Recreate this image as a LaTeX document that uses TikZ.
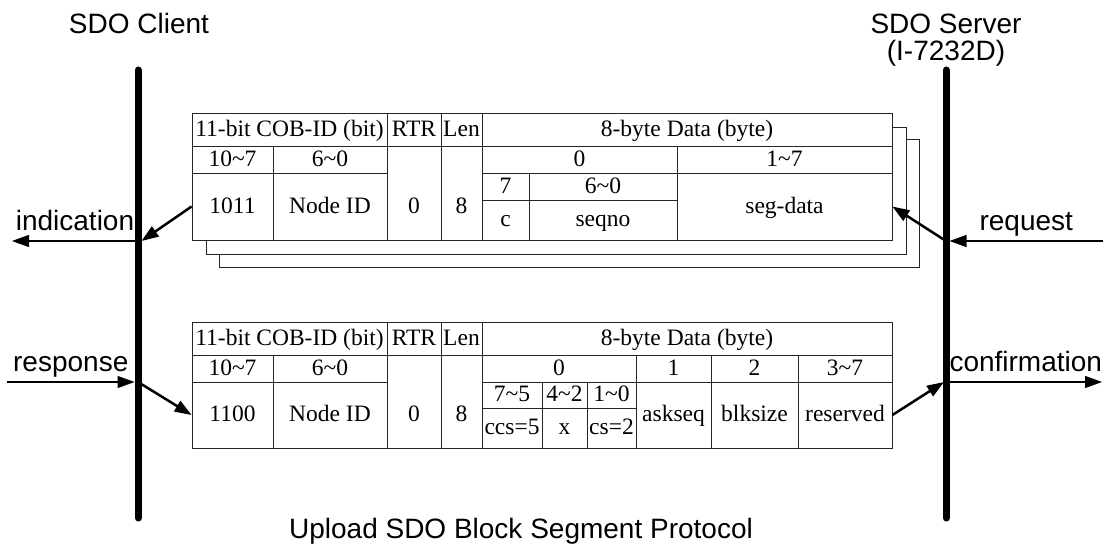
\documentclass[tikz,border=0pt]{standalone}
\usepackage{fontspec}
\setmainfont{Liberation Serif}
\newfontfamily\labelfont{Liberation Sans}
\usepackage{tikz}
\usetikzlibrary{arrows.meta,positioning,calc}
\newcommand{\fld}[6]{\node[cell,minimum width=#4-#2,minimum height=#5-#3] (#1) at ({(#2+#4)/2},{(#3+#5)/2}) {#6};}
\newcommand{\tl}{\textasciitilde}

\begin{document}
\begin{tikzpicture}[x=1pt,y=-1pt,
  >={Triangle[length=17pt,width=12pt]},
  cell/.style={draw=black!85,line width=0.8pt,fill=white,inner sep=0pt,
               font=\fontsize{23.5}{26}\selectfont,text height=16pt,text depth=3pt},
  val/.style={inner sep=0pt,font=\fontsize{23.5}{26}\selectfont,text height=16pt,text depth=3pt},
  lbl/.style={font=\labelfont\fontsize{28}{32}\selectfont,inner sep=0pt},
  side/.style={line width=7pt,line cap=round},
  msg/.style={->,line width=1.2pt},
  hop/.style={->,line width=2.5pt}
]
\useasboundingbox (0,0) rectangle (1110,546);
% the two sides
\node[lbl,anchor=base] (client) at (139,33) {SDO Client};
\node[lbl,anchor=base] (server) at (946,33) {SDO Server};
\node[lbl,anchor=base] (model) at (946,60) {(I-7232D)};
\coordinate (cltop) at (138,70);
\coordinate (clbot) at (138,518);
\coordinate (srtop) at (946,70);
\coordinate (srbot) at (946,518);
\draw[side] (cltop) -- (clbot);
\draw[side] (srtop) -- (srbot);
\coordinate (cl1) at (cltop |- 0,241);
\coordinate (cl2) at (cltop |- 0,382);
\coordinate (sr1) at (srtop |- 0,241);
\coordinate (sr2) at (srtop |- 0,382);
\coordinate (indend) at (12,241);
\coordinate (rspstart) at (7,382);
\coordinate (reqstart) at (1103,241);
\coordinate (cnfend) at (1102,382);

% segment frame (with two more behind it)
\fld{sh3}{219}{139}{919}{267}{}
\fld{sh2}{206}{127}{906}{254}{}
\fld{t1cob}{192}{113}{387}{146}{11-bit COB-ID (bit)}
\fld{t1rtr}{387}{113}{441}{146}{RTR}
\fld{t1len}{441}{113}{482}{146}{Len}
\fld{t1data}{482}{113}{892}{146}{8-byte Data (byte)}
\fld{t1hi}{192}{146}{273}{173}{10\tl7}
\fld{t1lo}{273}{146}{387}{173}{6\tl0}
\fld{t1rtrv}{387}{146}{441}{240}{}
\fld{t1lenv}{441}{146}{482}{240}{}
\fld{t1b0}{482}{146}{677}{173}{0}
\fld{t1b17}{677}{146}{892}{173}{1\tl7}
\fld{t1id}{192}{173}{273}{240}{1011}
\fld{t1node}{273}{173}{387}{240}{Node ID}
\fld{t1bit7}{482}{173}{529}{200}{7}
\fld{t1bit60}{529}{173}{677}{200}{6\tl0}
\fld{t1c}{482}{200}{529}{240}{c}
\fld{t1seq}{529}{200}{677}{240}{seqno}
\fld{t1seg}{677}{173}{892}{240}{seg-data}
\node[val] (t1rtrx) at (t1rtrv |- t1id) {0};
\node[val] (t1lenx) at (t1lenv |- t1id) {8};

% response frame
\fld{t2cob}{192}{322}{387}{355}{11-bit COB-ID (bit)}
\fld{t2rtr}{387}{322}{441}{355}{RTR}
\fld{t2len}{441}{322}{482}{355}{Len}
\fld{t2data}{482}{322}{892}{355}{8-byte Data (byte)}
\fld{t2hi}{192}{355}{273}{382}{10\tl7}
\fld{t2lo}{273}{355}{387}{382}{6\tl0}
\fld{t2rtrv}{387}{355}{441}{448}{}
\fld{t2lenv}{441}{355}{482}{448}{}
\fld{t2b0}{482}{355}{636}{382}{0}
\fld{t2b1}{636}{355}{711}{382}{1}
\fld{t2b2}{711}{355}{798}{382}{2}
\fld{t2b37}{798}{355}{892}{382}{3\tl7}
\fld{t2id}{192}{382}{273}{448}{1100}
\fld{t2node}{273}{382}{387}{448}{Node ID}
\fld{t2bit75}{482}{382}{542}{408}{7\tl5}
\fld{t2bit42}{542}{382}{587}{408}{4\tl2}
\fld{t2bit10}{587}{382}{636}{408}{1\tl0}
\fld{t2ccs}{482}{408}{542}{448}{ccs=5}
\fld{t2x}{542}{408}{587}{448}{x}
\fld{t2cs}{587}{408}{636}{448}{cs=2}
\fld{t2ask}{636}{382}{711}{448}{askseq}
\fld{t2blk}{711}{382}{798}{448}{blksize}
\fld{t2res}{798}{382}{892}{448}{reserved}
\node[val] (t2rtrx) at (t2rtrv |- t2id) {0};
\node[val] (t2lenx) at (t2lenv |- t2id) {8};

% services
\draw[msg] (cl1) -- node[lbl,midway,above=10pt,text depth=0pt]{indication} (indend);
\draw[hop] (t1id.west) -- ([xshift=3.5pt]cl1);
\draw[msg] (reqstart) -- node[lbl,midway,above=10pt,text depth=0pt]{request} ([xshift=3.5pt]sr1);
\draw[hop] (sr1) -- (t1seg.east);
\draw[msg] (rspstart) -- node[lbl,midway,above=10pt,text depth=0pt]{response} ([xshift=-3.5pt]cl2);
\draw[hop] (cl2) -- (t2id.west);
\draw[msg] ([xshift=3.5pt]sr2) -- node[lbl,midway,above=10pt,text depth=0pt]{confirmation} (cnfend);
\draw[hop] (t2res.east) -- ([xshift=-2pt]sr2);

\node[lbl,anchor=base] (caption) at (521,538) {Upload SDO Block Segment Protocol};
\end{tikzpicture}
\end{document}
